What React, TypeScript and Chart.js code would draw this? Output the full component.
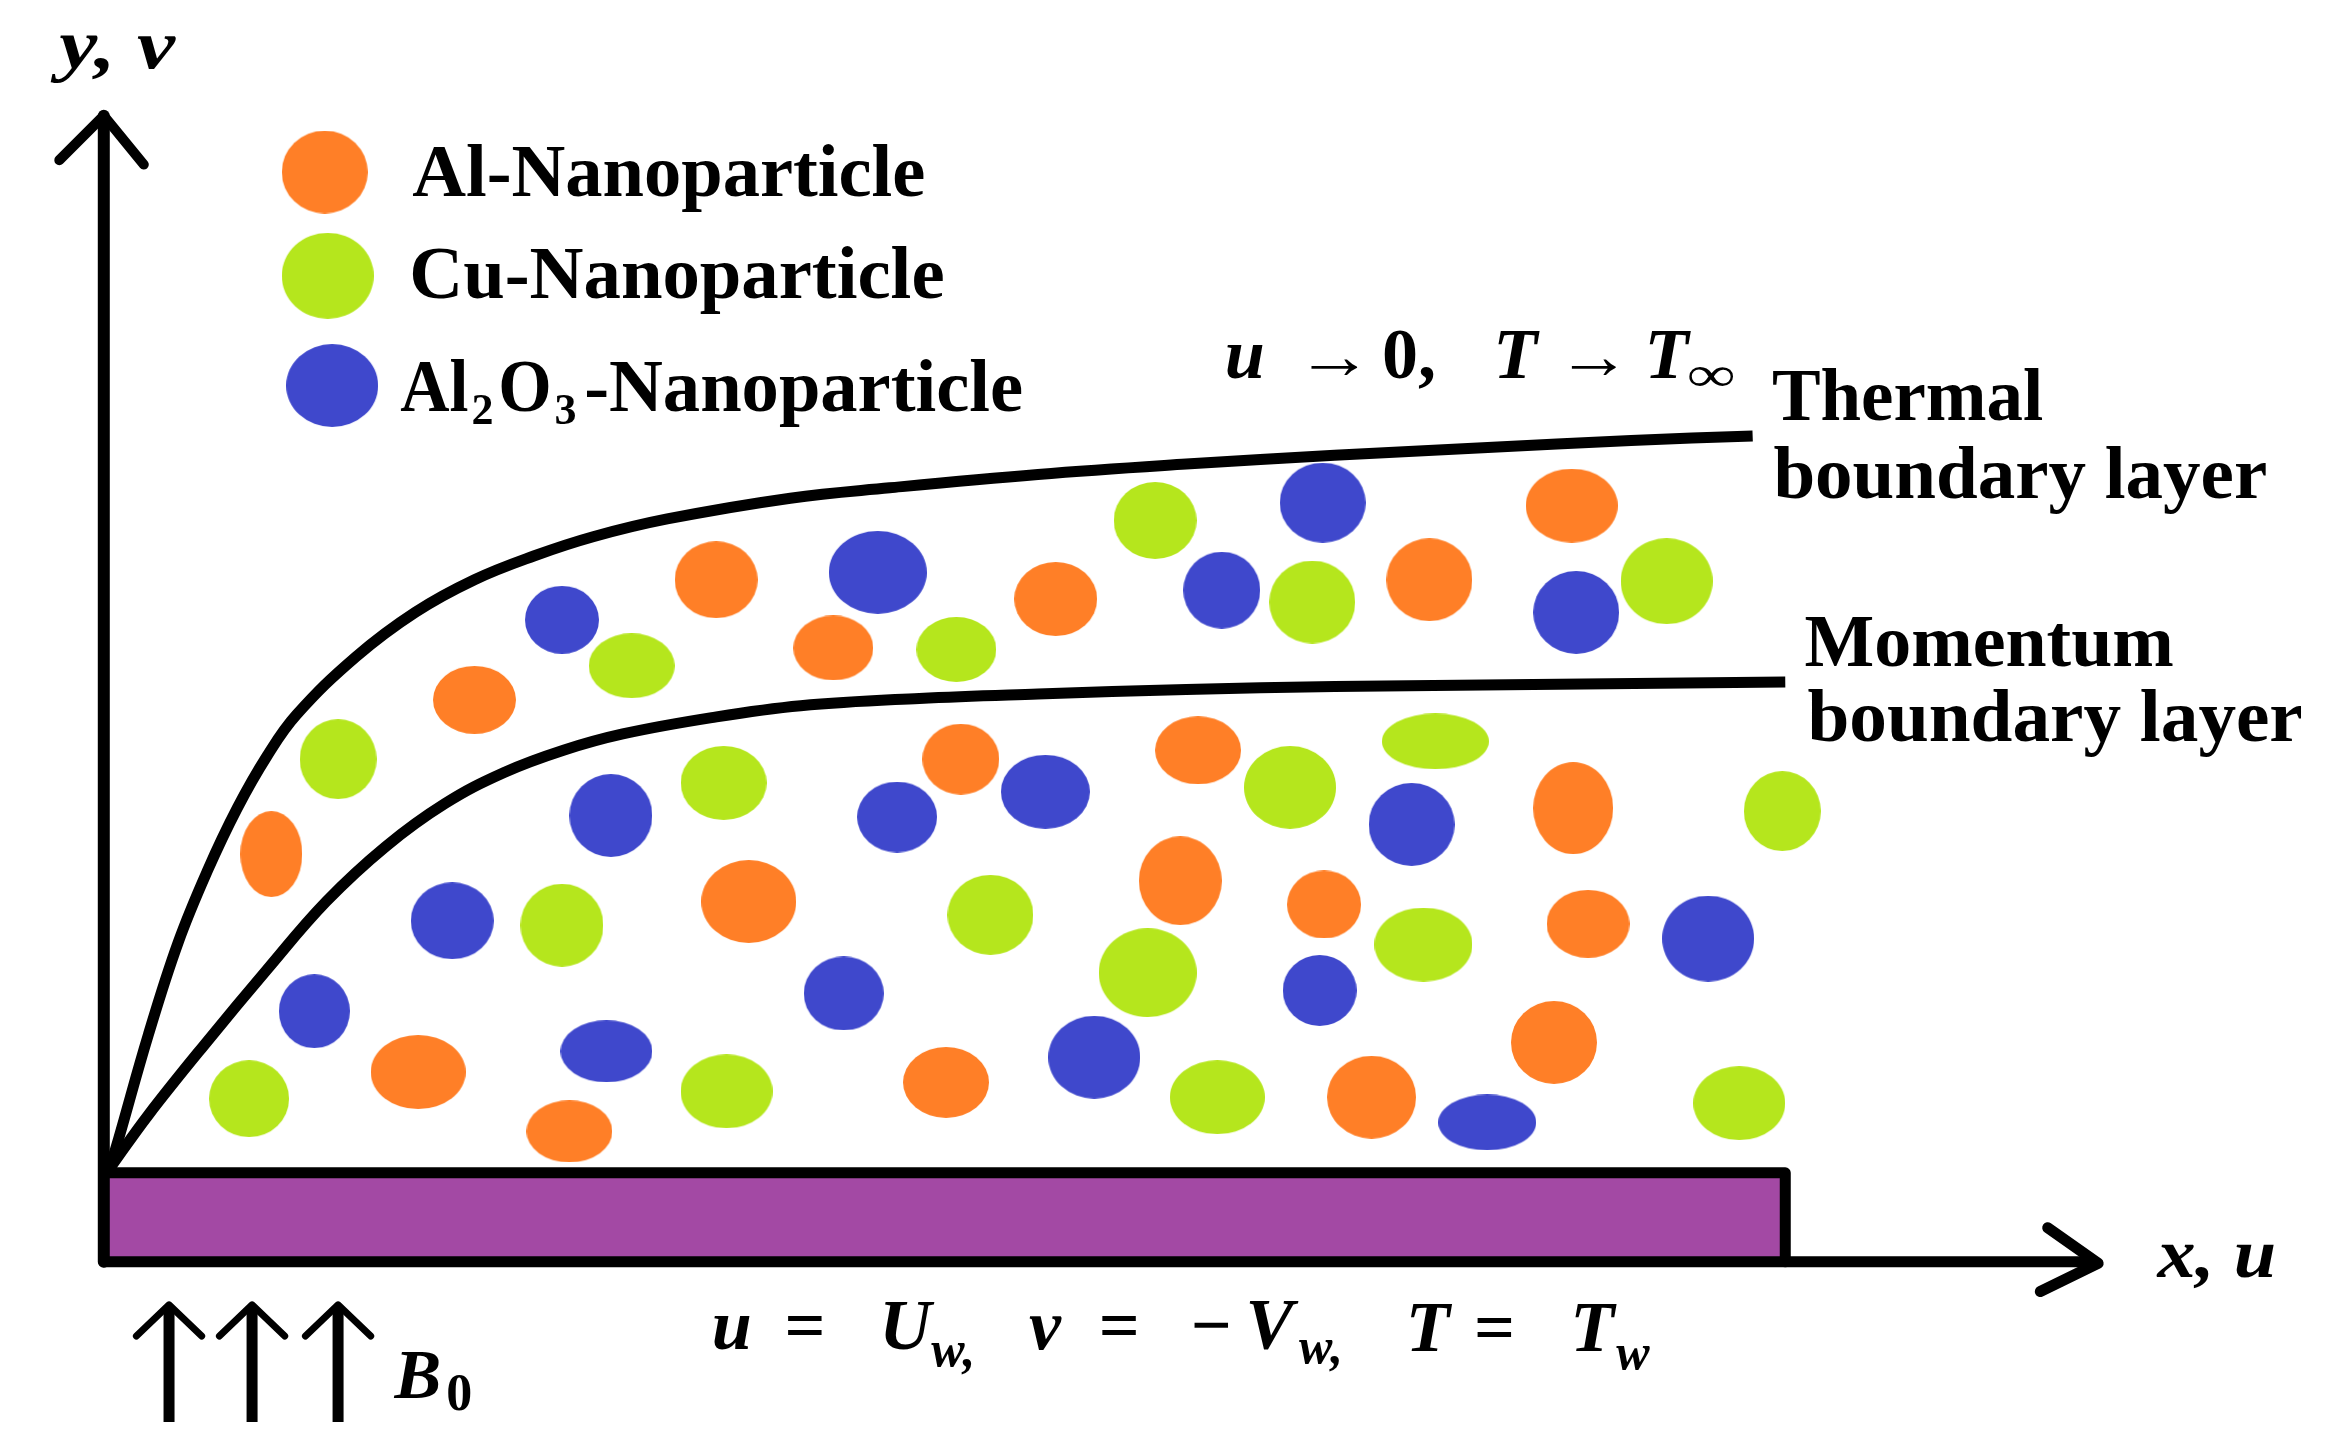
import { useEffect, useRef } from 'react'
import { Chart, registerables } from 'chart.js'

Chart.register(...registerables)

// all values are in diagram units: x 0-1568, y 0-980.6 from the top
const X_MAX = 1568
const Y_MAX = 980.6

const alX = [183, 320, 483, 562, 712, 964, 1060, 648, 808, 1061, 505, 796, 893, 1071, 282, 384, 638, 925, 1048]
const alY = [576, 472, 391, 437, 404, 391, 341, 512, 506, 545, 608, 594, 610, 623, 723, 763, 730, 740, 703]
const alW = [42, 56, 56, 54, 56, 58, 62, 52, 58, 54, 64, 56, 50, 56, 64, 58, 58, 60, 58]
const alH = [58, 46, 52, 44, 50, 56, 50, 48, 46, 62, 56, 60, 46, 46, 50, 42, 48, 56, 56]

const cuX = [228, 426, 645, 779, 885, 1124, 488, 870, 968, 1202, 379, 668, 774, 960, 168, 490, 821, 1173]
const cuY = [512, 449, 438, 351, 406, 392, 528, 531, 500, 547, 624, 617, 656, 637, 741, 736, 740, 744]
const cuW = [52, 58, 54, 56, 58, 62, 58, 62, 72, 52, 56, 58, 66, 66, 54, 62, 64, 62]
const cuH = [54, 44, 44, 52, 56, 58, 50, 56, 38, 54, 56, 54, 60, 50, 52, 50, 50, 50]

const oxX = [379, 592, 824, 892, 1063, 412, 605, 705, 952, 305, 1152, 212, 569, 890, 409, 738, 1003]
const oxY = [418, 386, 398, 339, 413, 550, 551, 534, 556, 621, 633, 682, 670, 668, 709, 713, 757]
const oxW = [50, 66, 52, 58, 58, 56, 54, 60, 58, 56, 62, 48, 54, 50, 62, 62, 66]
const oxH = [46, 56, 52, 54, 56, 56, 48, 50, 56, 52, 58, 50, 50, 48, 42, 56, 38]

const keyX = [219, 221, 224]
const keyY = [116, 186, 260]
const keyW = [58, 62, 62]
const keyH = [56, 58, 56]

const thermalX = [74, 80, 100, 120, 140, 160, 180, 200, 240, 280, 320, 360, 400, 450, 533, 600, 700, 800, 900, 1000, 1100, 1182]
const thermalY = [788, 768, 698, 636, 587, 545, 510, 482, 443, 413, 391, 375, 362, 350, 336, 329, 320, 313, 307, 302, 297, 294]
const momentumX = [74, 100, 140, 180, 220, 260, 300, 340, 380, 420, 480, 540, 620, 700, 800, 900, 1000, 1204]
const momentumY = [788, 752, 702, 654, 608, 571, 542, 521, 506, 495, 484, 476, 471, 468, 465, 463, 462, 460]

const wallX = [70, 1204]
const wallTop = [791, 791]
const wallBottom = [851, 851]

const ORANGE = '#FF7F27'
const GREEN = '#B5E61D'
const BLUE = '#3F48CC'
const PURPLE = '#A349A4'
const SERIF = '"Liberation Serif", serif'

type Note = { t: string; x: number; y: number; size: number; italic?: boolean; end?: number }

const notes: Note[] = [
  { t: 'y, v', x: 40, y: 46, size: 70, italic: true, end: 118 },
  { t: 'Al-Nanoparticle', x: 278, y: 132, size: 74, end: 624 },
  { t: 'Cu-Nanoparticle', x: 276, y: 201, size: 74, end: 637 },
  { t: 'Al', x: 270, y: 277, size: 74, end: 316 },
  { t: '2', x: 318, y: 286, size: 44 },
  { t: 'O', x: 336, y: 277, size: 74, end: 372 },
  { t: '3', x: 374, y: 286, size: 44 },
  { t: '-Nanoparticle', x: 394, y: 277, size: 74, end: 690 },
  { t: 'Thermal', x: 1195, y: 283, size: 74, end: 1378 },
  { t: 'boundary layer', x: 1196, y: 336, size: 74, end: 1529 },
  { t: 'Momentum', x: 1217, y: 449, size: 74, end: 1466 },
  { t: 'boundary layer', x: 1219, y: 500, size: 74, end: 1553 },
  { t: 'u', x: 826, y: 255, size: 72, italic: true },
  { t: '→', x: 874, y: 255, size: 66, end: 926 },
  { t: '0,', x: 932, y: 255, size: 72 },
  { t: 'T', x: 1007, y: 255, size: 72, italic: true },
  { t: '→', x: 1050, y: 255, size: 66, end: 1100 },
  { t: 'T', x: 1109, y: 255, size: 72, italic: true },
  { t: '∞', x: 1138, y: 264, size: 50, end: 1170 },
  { t: 'u', x: 480, y: 910, size: 72, italic: true },
  { t: '=', x: 529, y: 910, size: 72 },
  { t: 'U', x: 593, y: 910, size: 72, italic: true },
  { t: 'w,', x: 628, y: 921, size: 50, italic: true },
  { t: 'v', x: 694, y: 910, size: 72, italic: true },
  { t: '=', x: 741, y: 910, size: 72 },
  { t: '−', x: 803, y: 910, size: 72 },
  { t: 'V', x: 840, y: 909, size: 72, italic: true },
  { t: 'w,', x: 876, y: 919, size: 50, italic: true },
  { t: 'T', x: 948, y: 911, size: 72, italic: true },
  { t: '=', x: 994, y: 911, size: 72 },
  { t: 'T', x: 1059, y: 911, size: 72, italic: true },
  { t: 'w', x: 1090, y: 923, size: 50, italic: true },
  { t: 'x, u', x: 1455, y: 861, size: 70, italic: true, end: 1535 },
  { t: 'B', x: 266, y: 943, size: 70, italic: true },
  { t: '0', x: 301, y: 951, size: 52 },
]

const pts = (xs: number[], ys: number[]) => xs.map((x, i) => ({ x, y: ys[i] }))

// paint-style blob, drawn by the point element as an image point style
function blob(w: number, h: number, color: string) {
  const c = document.createElement('canvas')
  c.width = Math.round((w * 2325) / X_MAX)
  c.height = Math.round((h * 1454) / Y_MAX)
  const g = c.getContext('2d')!
  g.fillStyle = color
  g.beginPath()
  g.ellipse(c.width / 2, c.height / 2, c.width / 2, c.height / 2, 0, 0, Math.PI * 2)
  g.fill()
  return c
}

function particles(label: string, xs: number[], ys: number[], ws: number[], hs: number[], color: string) {
  return {
    type: 'scatter' as const,
    label,
    data: pts(xs, ys),
    showLine: false,
    pointStyle: ws.map((w, i) => blob(w, hs[i], color)),
    pointRadius: 10,
    order: 2,
  }
}

function stroke(label: string, xs: number[], ys: number[], width: number, tension = 0, cap = 'round') {
  return {
    type: 'line' as const,
    label,
    data: pts(xs, ys),
    borderColor: '#000',
    borderWidth: width,
    borderJoinStyle: 'round' as const,
    borderCapStyle: cap,
    pointRadius: 0,
    tension,
    fill: false,
    order: 1,
  }
}

const textPlugin = {
  id: 'notes',
  afterDraw(chart: Chart) {
    const { ctx, scales } = chart
    const k = chart.width / X_MAX
    ctx.save()
    ctx.fillStyle = '#000'
    ctx.textBaseline = 'alphabetic'
    for (const n of notes) {
      ctx.font = `${n.italic ? 'italic ' : ''}bold ${n.size}px ${SERIF}`
      const sx = n.end ? ((n.end - n.x) * k) / ctx.measureText(n.t).width : 1
      ctx.save()
      ctx.translate(scales.x.getPixelForValue(n.x), scales.y.getPixelForValue(n.y))
      ctx.scale(sx, 1)
      ctx.fillText(n.t, 0, 0)
      ctx.restore()
    }
    ctx.restore()
  },
}

export default function App() {
  const canvasRef = useRef<HTMLCanvasElement>(null)

  useEffect(() => {
    if (!canvasRef.current) return
    document.body.style.margin = '0'

    const chart = new Chart(canvasRef.current, {
      type: 'scatter',
      data: {
        datasets: [
          particles('Al-Nanoparticle', alX, alY, alW, alH, ORANGE),
          particles('Cu-Nanoparticle', cuX, cuY, cuW, cuH, GREEN),
          particles('Al2O3-Nanoparticle', oxX, oxY, oxW, oxH, BLUE),
          particles('key', keyX.slice(0, 1), keyY.slice(0, 1), keyW.slice(0, 1), keyH.slice(0, 1), ORANGE),
          particles('key', keyX.slice(1, 2), keyY.slice(1, 2), keyW.slice(1, 2), keyH.slice(1, 2), GREEN),
          particles('key', keyX.slice(2), keyY.slice(2), keyW.slice(2), keyH.slice(2), BLUE),
          stroke('Thermal boundary layer', thermalX, thermalY, 11, 0.4, 'butt'),
          stroke('Momentum boundary layer', momentumX, momentumY, 11, 0.4, 'butt'),
          stroke('y axis', [70, 70], [851, 78], 12),
          stroke('y head', [40, 70, 97], [108, 78, 111], 10),
          stroke('x axis', [70, 1412], [851, 851], 11),
          stroke('x head', [1381, 1415, 1376], [828, 852, 871], 11),
          stroke('wall', [70, 1204, 1204], [791, 791, 851], 11),
          stroke('B1', [114, 114], [959, 881], 11, 0, 'butt'),
          stroke('B1 head', [92, 114, 136], [901, 880, 901], 7),
          stroke('B2', [170, 170], [959, 881], 11, 0, 'butt'),
          stroke('B2 head', [148, 170, 192], [901, 880, 901], 7),
          stroke('B3', [228, 228], [959, 881], 11, 0, 'butt'),
          stroke('B3 head', [206, 228, 250], [901, 880, 901], 7),
          {
            type: 'line',
            label: 'wall top',
            data: pts(wallX, wallTop),
            borderWidth: 0,
            pointRadius: 0,
            backgroundColor: PURPLE,
            fill: '+1',
            order: 3,
          },
          {
            type: 'line',
            label: 'wall bottom',
            data: pts(wallX, wallBottom),
            borderWidth: 0,
            pointRadius: 0,
            fill: false,
            order: 3,
          },
        ],
      },
      options: {
        animation: false,
        responsive: false,
        layout: { padding: 0, autoPadding: false },
        plugins: { legend: { display: false }, tooltip: { enabled: false } },
        scales: {
          x: { type: 'linear', display: false, min: 0, max: X_MAX },
          y: { type: 'linear', display: false, min: 0, max: Y_MAX, reverse: true },
        },
      },
      plugins: [textPlugin],
    } as any)

    return () => chart.destroy()
  }, [])

  return <canvas ref={canvasRef} width={2325} height={1454} style={{ display: 'block' }} />
}
